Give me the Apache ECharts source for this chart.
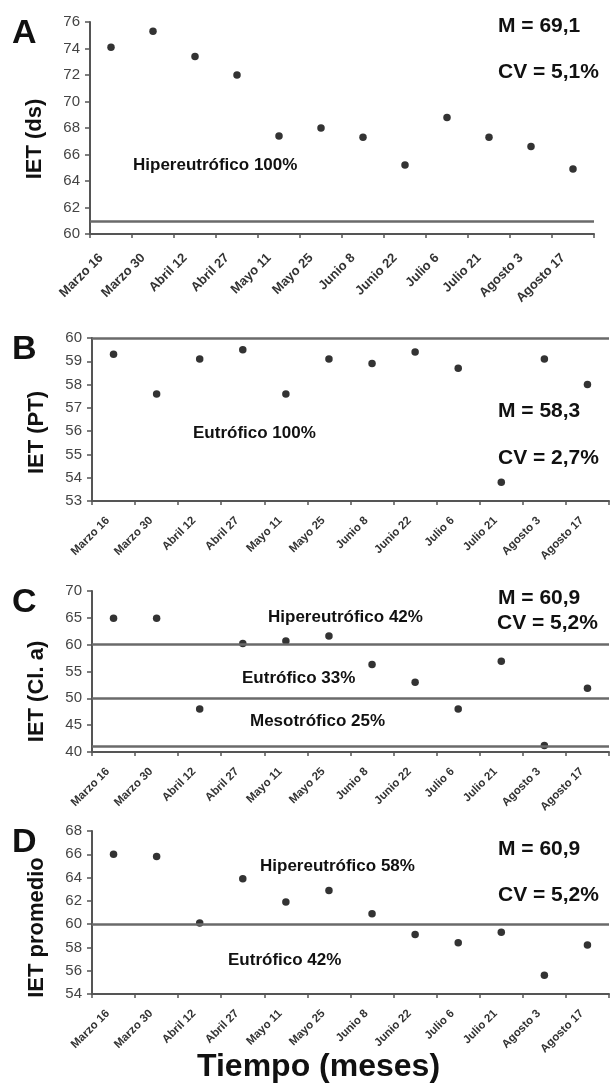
<!DOCTYPE html>
<html>
<head>
<meta charset="utf-8">
<script src="https://cdn.jsdelivr.net/npm/echarts@6/dist/echarts.min.js"></script>
<style>
html,body{margin:0;padding:0;background:#fff;}
#chart{width:613px;height:1087px;}
</style>
</head>
<body>
<div id="chart"></div>
<script>
// ---- data ----
const categories = ['Marzo 16','Marzo 30','Abril 12','Abril 27','Mayo 11','Mayo 25','Junio 8','Junio 22','Julio 6','Julio 21','Agosto 3','Agosto 17'];
const ietDs   = [74.1, 75.3, 73.4, 72.0, 67.4, 68.0, 67.3, 65.2, 68.8, 67.3, 66.6, 64.9];
const ietPt   = [59.3, 57.6, 59.1, 59.5, 57.6, 59.1, 58.9, 59.4, 58.7, 53.8, 59.1, 58.0];
const ietCla  = [64.9, 64.9, 48.0, 60.2, 60.7, 61.6, 56.3, 53.0, 48.0, 56.9, 41.2, 51.9];
const ietProm = [66.0, 65.8, 60.1, 63.9, 61.9, 62.9, 60.9, 59.1, 58.4, 59.3, 55.6, 58.2];
const thresholdsA = [61];
const thresholdsB = [60];
const thresholdsC = [60, 50, 41];
const thresholdsD = [60];
const yNames = ['IET (ds)', 'IET (PT)', 'IET (Cl. a)', 'IET promedio'];
const panelLetters = ['A', 'B', 'C', 'D'];
const yRanges = [[60, 76, 2], [53, 60, 1], [40, 70, 5], [54, 68, 2]];
const xTitle = 'Tiempo (meses)';

// ---- layout ----
const grids = [
  {left: 90, top: 22, width: 504, height: 212},
  {left: 92, top: 338, width: 517, height: 163},
  {left: 92, top: 591, width: 517, height: 161},
  {left: 92, top: 831, width: 517, height: 163}
];
const namePad = [22, 26, 40, 30];
const xLabelSize = [13, 11.5, 11.5, 11.5];
const xLabelPad = [14, 8, 8, 8];
const FONT = '"Liberation Sans", Arial, sans-serif';
const axisGray = '#555';

const chart = echarts.init(document.getElementById('chart'), null, {renderer: 'canvas'});

const xAxes = grids.map((g, i) => ({
  type: 'category', gridIndex: i, data: categories, boundaryGap: true,
  axisLine: {lineStyle: {color: axisGray, width: 2}},
  axisTick: {show: true, alignWithLabel: false, length: 4, lineStyle: {color: axisGray, width: 1.5}},
  axisLabel: {rotate: 45, interval: 0, margin: 12, padding: [0, xLabelPad[i], 0, 0], fontSize: xLabelSize[i], fontWeight: 'bold', color: '#333', fontFamily: FONT},
  splitLine: {show: false}
}));
const yAxes = grids.map((g, i) => ({
  type: 'value', gridIndex: i, min: yRanges[i][0], max: yRanges[i][1], interval: yRanges[i][2],
  name: yNames[i], nameLocation: 'middle', nameGap: 44, nameRotate: 90,
  nameTextStyle: {fontSize: 22, fontWeight: 'bold', color: '#111', fontFamily: FONT, padding: [0, namePad[i], 0, 0]},
  axisLine: {show: true, lineStyle: {color: axisGray, width: 2}},
  axisTick: {show: true, inside: false, length: 5, lineStyle: {color: axisGray, width: 1.5}},
  axisLabel: {margin: 10, fontSize: 15, color: '#444', fontFamily: FONT},
  splitLine: {show: false}
}));

function mk(values) {
  return {
    silent: true, symbol: ['none', 'none'],
    label: {show: false},
    lineStyle: {color: '#6a6a6a', width: 2.5, type: 'solid'},
    data: values.map(v => ({yAxis: v}))
  };
}
const seriesData = [ietDs, ietPt, ietCla, ietProm];
const thresholds = [thresholdsA, thresholdsB, thresholdsC, thresholdsD];
const series = seriesData.map((d, i) => ({
  type: 'scatter', xAxisIndex: i, yAxisIndex: i, data: d,
  symbol: 'circle', symbolSize: 7.5,
  itemStyle: {color: '#000'},
  markLine: mk(thresholds[i])
}));

const letterY = [34, 350, 603, 843];
const graphics = [];
panelLetters.forEach((L, i) => {
  graphics.push({type: 'text', left: 12, top: letterY[i] - 17, style: {text: L, fontSize: 34, fontWeight: 'bold', fill: '#111', fontFamily: FONT}});
});
const notes = [
  ['M = 69,1', 498, 28, 21], ['CV = 5,1%', 498, 74, 21], ['Hipereutrófico 100%', 133, 167, 17],
  ['M = 58,3', 498, 413, 21], ['CV = 2,7%', 498, 460, 21], ['Eutrófico 100%', 193, 435, 17],
  ['M = 60,9', 498, 600, 21], ['CV = 5,2%', 497, 625, 21], ['Hipereutrófico 42%', 268, 619, 17], ['Eutrófico 33%', 242, 680, 17], ['Mesotrófico 25%', 250, 723, 17],
  ['M = 60,9', 498, 851, 21], ['CV = 5,2%', 498, 897, 21], ['Hipereutrófico 58%', 260, 868, 17], ['Eutrófico 42%', 228, 962, 17]
];
notes.forEach(n => {
  graphics.push({type: 'text', left: n[1], top: n[2] - n[3] * 0.6, style: {text: n[0], fontSize: n[3], fontWeight: 'bold', fill: '#111', fontFamily: FONT}});
});
graphics.push({type: 'text', left: 197, top: 1051, style: {text: xTitle, fontSize: 32, fontWeight: 'bold', fill: '#111', fontFamily: FONT}});

chart.setOption({
  animation: false,
  backgroundColor: '#fff',
  grid: grids,
  xAxis: xAxes,
  yAxis: yAxes,
  series: series,
  graphic: graphics
});
</script>
</body>
</html>
